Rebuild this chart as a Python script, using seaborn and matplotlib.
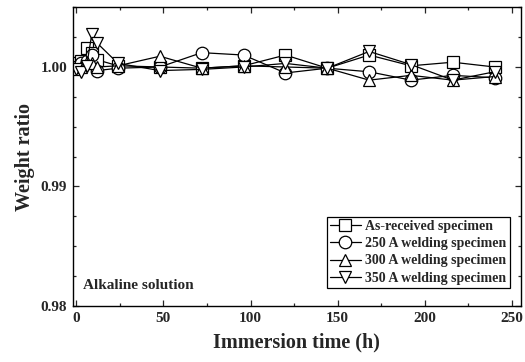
import matplotlib
matplotlib.use("Agg")
import matplotlib.pyplot as plt
import seaborn as sns
import numpy as np
from matplotlib.ticker import MultipleLocator

sns.set_theme(style="ticks")
plt.rcParams['font.family'] = ['Liberation Serif', 'DejaVu Serif']
plt.rcParams['font.weight'] = 'bold'
plt.rcParams['axes.labelweight'] = 'bold'

time_h = [0, 3, 6, 9, 12, 24, 48, 72, 96, 120, 144, 168, 192, 216, 240]
as_received = [1.0003, 1.0005, 1.0016, 1.0012, 1.0006, 1.0001, 1.0000, 0.9999, 1.0001, 1.0010, 0.9999, 1.0010, 1.0001, 1.0004, 1.0000]
weld_250 = [1.0000, 1.0003, 1.0005, 1.0010, 0.9997, 0.9999, 1.0000, 1.0012, 1.0010, 0.9995, 0.9999, 0.9996, 0.9989, 0.9993, 0.9991]
weld_300 = [0.9998, 1.0000, 1.0004, 1.0003, 1.0000, 1.0001, 1.0009, 0.9999, 1.0001, 1.0000, 0.9999, 0.9989, 0.9993, 0.9989, 0.9992]
weld_350 = [0.9998, 0.9996, 1.0001, 1.0028, 1.0020, 1.0003, 0.9997, 0.9998, 1.0000, 1.0003, 0.9999, 1.0013, 1.0002, 0.9989, 0.9996]

series_labels = ["As-received specimen", "250 A welding specimen",
                 "300 A welding specimen", "350 A welding specimen"]
series_values = [as_received, weld_250, weld_300, weld_350]
series_markers = ["s", "o", "^", "v"]

fig = plt.figure(figsize=(5.25, 3.62), dpi=100)
ax = fig.add_axes([0.1385, 0.1547, 0.8535, 0.8253])

for lab, vals, mk in zip(series_labels, series_values, series_markers):
    sns.lineplot(x=time_h, y=vals, ax=ax, color="black", marker=mk,
                 markersize=9, mfc="white", mec="black", mew=0.9,
                 linewidth=0.9, label=lab, sort=False)

ax.set_xlim(-2, 255)
ax.set_ylim(0.98, 1.005)
ax.xaxis.set_major_locator(MultipleLocator(50))
ax.xaxis.set_minor_locator(MultipleLocator(25))
ax.yaxis.set_major_locator(MultipleLocator(0.01))
ax.yaxis.set_minor_locator(MultipleLocator(0.0025))
ax.yaxis.set_major_formatter(matplotlib.ticker.FormatStrFormatter('%.2f'))
ax.tick_params(which='both', direction='in', top=True, right=True, width=0.9)
ax.tick_params(which='major', length=4, labelsize=11, pad=4)
ax.tick_params(which='minor', length=2.5)
for t in ax.get_xticklabels() + ax.get_yticklabels():
    t.set_fontweight('bold')
for s in ax.spines.values():
    s.set_linewidth(1.0)
    s.set_color('black')

ax.set_xlabel("Immersion time (h)", fontsize=14.5, fontweight='bold', labelpad=6)
ax.set_ylabel("Weight ratio", fontsize=14.5, fontweight='bold', labelpad=4)

ax.text(0.023, 0.07, "Alkaline solution", transform=ax.transAxes,
        fontsize=11, fontweight='bold', ha='left', va='center')

leg = ax.legend(loc='lower right', bbox_to_anchor=(0.975, 0.06),
                frameon=True, fancybox=False, edgecolor='black',
                framealpha=1, handlelength=2.2, handletextpad=0.3,
                labelspacing=0.3, borderpad=0.25, borderaxespad=0.0,
                prop={'weight': 'bold', 'size': 10})
leg.get_frame().set_linewidth(0.9)

fig.savefig("out.png", dpi=100)
